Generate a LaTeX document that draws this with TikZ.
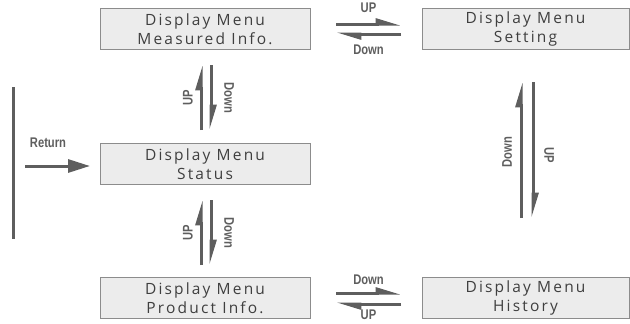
\documentclass[tikz,border=0pt]{standalone}
\usepackage{fontspec}
\setmainfont{Open Sans}[LetterSpace=14]
\newfontfamily\keyfont{Liberation Sans}[FakeStretch=0.8]
\usetikzlibrary{arrows.meta,positioning}
\definecolor{menufill}{HTML}{ECECEC}
\definecolor{menuedge}{HTML}{8C8C8C}
\definecolor{menutext}{HTML}{3F3F3F}
\definecolor{keygray}{HTML}{5E5E5E}
\tikzset{
  menubox/.style={draw=menuedge,fill=menufill,line width=0.9pt,minimum width=210pt,
    minimum height=41pt,inner sep=0pt,align=center,text=menutext,
    font=\fontsize{15.5}{19.5}\selectfont},
  keyarrow/.style={keygray,line width=3pt,-{Triangle[harpoon,length=20pt,width=11pt]}},
  keylabel/.style={text=keygray,font=\keyfont\bfseries\fontsize{14}{16}\selectfont,inner sep=0pt}
}
\begin{document}
\begin{tikzpicture}[x=1pt,y=-1pt]
        \useasboundingbox (0,0) rectangle (630,324);
        % menu screens
        \node[menubox] (meas) at (205,29) {Display Menu\\Measured Info.};
        \node[menubox,minimum width=207pt] (setting) at (525.5,29) {Display Menu\\Setting};
        \node[menubox] (status) at (205,164) {Display Menu\\Status};
        \node[menubox] (product) at (205,298) {Display Menu\\Product Info.};
        \node[menubox,minimum width=207pt] (history) at (525.5,298) {Display Menu\\History};
        % ends of the key arrows
        \coordinate (msA) at (336,24);  \coordinate (msB) at (401,24);
        \coordinate (smA) at (401,34);  \coordinate (smB) at (336,34);
        \coordinate (phA) at (336,293); \coordinate (phB) at (401,293);
        \coordinate (hpA) at (401,304); \coordinate (hpB) at (336,304);
        \coordinate (stA) at (201,130); \coordinate (stB) at (201,65);
        \coordinate (tsA) at (211,65);  \coordinate (tsB) at (211,130);
        \coordinate (psA) at (201,265); \coordinate (psB) at (201,200);
        \coordinate (spA) at (211,200); \coordinate (spB) at (211,265);
        \coordinate (hsA) at (521,218); \coordinate (hsB) at (521,82);
        \coordinate (shA) at (533,82);  \coordinate (shB) at (533,218);
        \draw[keyarrow] (msA) -- (msB);
        \draw[keyarrow] (smA) -- (smB);
        \draw[keyarrow] (phA) -- (phB);
        \draw[keyarrow] (hpA) -- (hpB);
        \draw[keyarrow] (stA) -- (stB);
        \draw[keyarrow] (tsA) -- (tsB);
        \draw[keyarrow] (psA) -- (psB);
        \draw[keyarrow] (spA) -- (spB);
        \draw[keyarrow] (hsA) -- (hsB);
        \draw[keyarrow] (shA) -- (shB);
        \node[keylabel] (upT) at (368.5,8) {UP};
        \node[keylabel] (downT) at (368.5,50) {Down};
        \node[keylabel] (downB) at (368.5,280) {Down};
        \node[keylabel] (upB) at (368.5,315) {UP};
        \node[keylabel,rotate=90] (upL1) at (188,98) {UP};
        \node[keylabel,rotate=-90] (downL1) at (229,98) {Down};
        \node[keylabel,rotate=90] (upL2) at (188,233) {UP};
        \node[keylabel,rotate=-90] (downL2) at (229,233) {Down};
        \node[keylabel,rotate=90] (downR) at (507,152) {Down};
        \node[keylabel,rotate=-90] (upR) at (549,155) {UP};
        % return bar
        \coordinate (barTop) at (13,87);
        \coordinate (barBot) at (13,239);
        \draw[keygray,line width=3pt] (barTop) -- (barBot);
        \coordinate (retStart) at (25,166);
        \coordinate (retEnd) at (90,166);
        \draw[keygray,line width=3pt,-{Triangle[length=22pt,width=13pt]}] (retStart) -- (retEnd);
        \node[keylabel] (ret) at (48,143) {Return};
      \end{tikzpicture}
\end{document}
